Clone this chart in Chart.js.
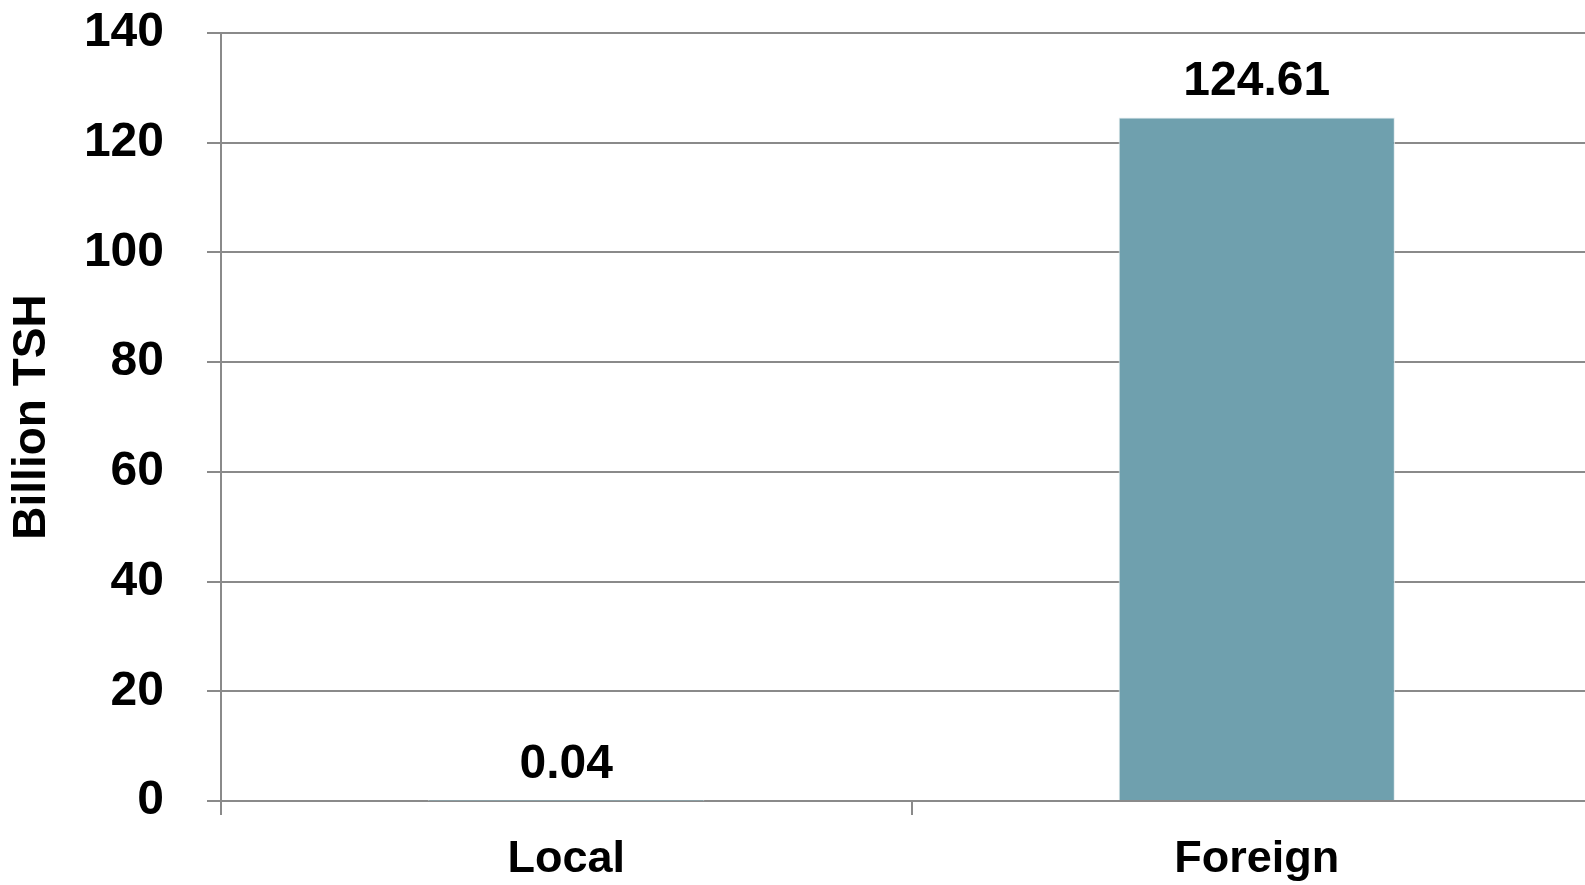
<!DOCTYPE html>
<html>
<head>
<meta charset="utf-8">
<script src="https://cdn.jsdelivr.net/npm/chart.js@4/dist/chart.umd.min.js"></script>
<style>
html,body{margin:0;padding:0;background:#fff;overflow:hidden;width:1585px;height:885px;}
#wrap{width:1585px;height:885px;position:relative;overflow:hidden;}
canvas{display:block;}
</style>
</head>
<body>
<div id="wrap"><canvas id="c" width="1602" height="885" style="width:1602px;height:885px;"></canvas></div>
<script>
const categories = ["Local", "Foreign"];
const values = [0.04, 124.61];
const valueLabels = ["0.04", "124.61"];
const yTicks = [0, 20, 40, 60, 80, 100, 120, 140];
const yTitle = "Billion TSH";

const FONT = "'Liberation Sans', Arial, sans-serif";
const gridColor = "#8a8a8a";

const dataLabels = {
  id: "dataLabels",
  afterDatasetsDraw(chart) {
    const ctx = chart.ctx;
    const meta = chart.getDatasetMeta(0);
    ctx.save();
    ctx.font = "bold 48px " + FONT;
    ctx.fillStyle = "#000";
    ctx.textAlign = "center";
    ctx.textBaseline = "alphabetic";
    meta.data.forEach((el, i) => {
      const p = el.getProps(["x", "y"], true);
      ctx.fillText(valueLabels[i], p.x, p.y - 22.5);
    });
    ctx.restore();
  }
};

new Chart(document.getElementById("c"), {
  type: "bar",
  data: {
    labels: categories,
    datasets: [{
      data: values,
      backgroundColor: "#6fa0ae",
      borderColor: "#e4ecef",
      borderWidth: 1,
      barPercentage: 0.4,
      categoryPercentage: 1.0
    }]
  },
  options: {
    responsive: false,
    animation: false,
    devicePixelRatio: 1,
    layout: { padding: { top: 33, right: 0, left: 0, bottom: 0 } },
    plugins: { legend: { display: false }, tooltip: { enabled: false } },
    scales: {
      x: {
        offset: true,
        grid: { display: true, drawOnChartArea: false, drawTicks: true, tickLength: 14, color: gridColor, lineWidth: 2, offset: true },
        border: { display: true, color: gridColor, width: 2 },
        ticks: { color: "#000", font: { family: FONT, size: 45, weight: "bold" }, padding: 18, maxRotation: 0 },
        afterFit(s) { s.height = 84; s.paddingLeft = 0; s.paddingRight = 0; }
      },
      y: {
        min: 0, max: 140,
        afterBuildTicks(s) { s.ticks = yTicks.map(v => ({ value: v })); },
        grid: { color: gridColor, lineWidth: 2, drawTicks: true, tickLength: 14 },
        border: { display: true, color: gridColor, width: 2 },
        ticks: { color: "#000", font: { family: FONT, size: 48, weight: "bold" }, padding: 43 },
        title: { display: true, text: yTitle, color: "#000", font: { family: FONT, size: 46, weight: "bold" }, padding: { top: 5, bottom: 0 } },
        afterFit(s) { s.width = 221; s.paddingTop = 0; s.paddingBottom = 0; }
      }
    }
  },
  plugins: [dataLabels]
});
</script>
</body>
</html>
